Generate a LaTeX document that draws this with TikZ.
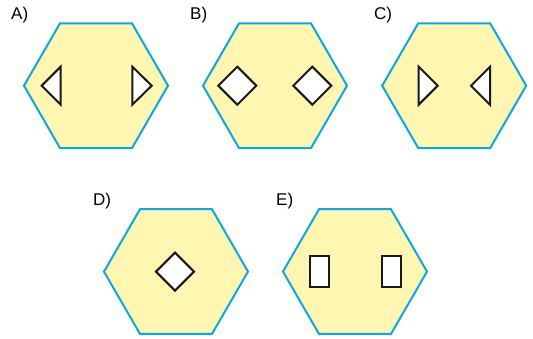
\documentclass[tikz,border=0pt]{standalone}
\usepackage{fontspec}
\setmainfont{Liberation Sans}
\usetikzlibrary{shapes.geometric}
\definecolor{hexfill}{RGB}{255,246,178}
\definecolor{hexline}{RGB}{10,168,228}
\begin{document}
\begin{tikzpicture}[x=1pt,y=-1pt,
  hex/.style={regular polygon,regular polygon sides=6,minimum size=144pt,inner sep=0pt,outer sep=0pt,fill=hexfill,draw=hexline,line width=2pt},
  hole/.style={draw=black!90,fill=white,line width=2pt,line join=miter},
  lbl/.style={anchor=base west,inner sep=0pt,font=\fontsize{17}{18}\selectfont}]
\useasboundingbox (0,0) rectangle (533,339);
% hexagons
\node[hex] (hA) at (96,85.7) {};
\node[hex] (hB) at (275,85.7) {};
\node[hex] (hC) at (454.2,85.7) {};
\node[hex] (hD) at (176,271.6) {};
\node[hex] (hE) at (355,271.6) {};
% labels
\node[lbl] (lA) at (11,20) {A)};
\node[lbl] (lB) at (190,20) {B)};
\node[lbl] (lC) at (374,20) {C)};
\node[lbl] (lD) at (93,206) {D)};
\node[lbl] (lE) at (276,206) {E)};
% A: triangles pointing outward
\draw[hole] ([shift={(-54.3,0)}]hA.center) -- ([shift={(-35.3,-19)}]hA.center) -- ([shift={(-35.3,19)}]hA.center) -- cycle;
\draw[hole] ([shift={(55.7,0)}]hA.center) -- ([shift={(36.3,-19)}]hA.center) -- ([shift={(36.3,19)}]hA.center) -- cycle;
% B: diamonds
\draw[hole] ([shift={(-56.7,0)}]hB.center) -- ([shift={(-37.7,-19)}]hB.center) -- ([shift={(-18.7,0)}]hB.center) -- ([shift={(-37.7,19)}]hB.center) -- cycle;
\draw[hole] ([shift={(18.3,0)}]hB.center) -- ([shift={(37.3,-19)}]hB.center) -- ([shift={(56.3,0)}]hB.center) -- ([shift={(37.3,19)}]hB.center) -- cycle;
% C: triangles pointing inward
\draw[hole] ([shift={(-16.5,0)}]hC.center) -- ([shift={(-35.5,-19)}]hC.center) -- ([shift={(-35.5,19)}]hC.center) -- cycle;
\draw[hole] ([shift={(16.8,0)}]hC.center) -- ([shift={(35.8,-19)}]hC.center) -- ([shift={(35.8,19)}]hC.center) -- cycle;
% D: diamond
\draw[hole] ([shift={(-20,0)}]hD.center) -- ([shift={(-1,-19)}]hD.center) -- ([shift={(18,0)}]hD.center) -- ([shift={(-1,19)}]hD.center) -- cycle;
% E: rectangles
\draw[hole] ([shift={(-45,-15.6)}]hE.center) rectangle ([shift={(-25.7,15.7)}]hE.center);
\draw[hole] ([shift={(26.7,-15.6)}]hE.center) rectangle ([shift={(45.7,15.7)}]hE.center);
\end{tikzpicture}
\end{document}
